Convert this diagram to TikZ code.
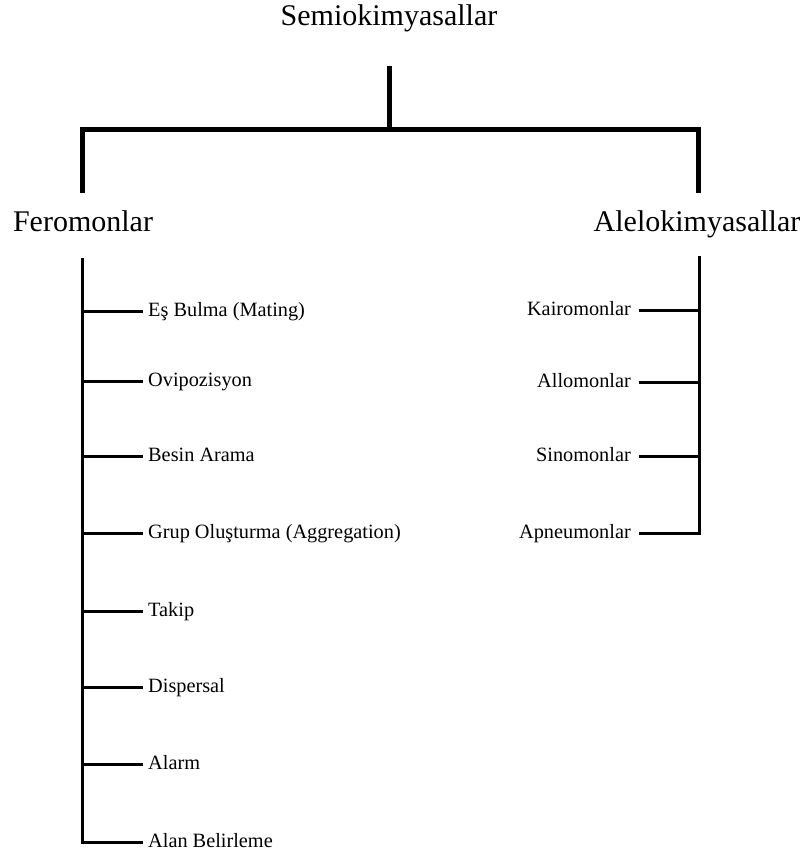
\documentclass[tikz,border=0pt]{standalone}
\usepackage{fontspec}
\setmainfont{Liberation Serif}
\usepackage{tikz}

\tikzset{
  bigtext/.style={font=\fontsize{30}{36}\selectfont, inner sep=0pt, anchor=base},
  leaf/.style={font=\fontsize{20.3}{24}\selectfont, text height=14pt, text depth=4pt, inner ysep=0pt},
  thickline/.style={line width=5pt, line join=miter},
  thinline/.style={line width=3pt, line cap=rect},
}

\begin{document}
\begin{tikzpicture}[x=1pt,y=-1pt]
    \useasboundingbox (0,0) rectangle (806,855);

    % Top level
    \node[bigtext] (semio) at (389,25) {Semiokimyasallar};
    \node[bigtext] (fero) at (83,231) {Feromonlar};
    \node[bigtext] (alelo) at (697,231) {Alelokimyasallar};
    \coordinate (semio-b) at (389,66);
    \coordinate (hub) at (389,129);
    \coordinate (fero-t) at (82,193);
    \coordinate (alelo-t) at (698,193);
    \draw[thickline] (semio-b) -- (hub);
    \draw[thickline] (fero-t) |- (hub) -| (alelo-t);

    % Feromonlar branch
    \coordinate (fero-top) at (82,259);
    \coordinate (fero-bot) at (82,842);
    \draw[thinline] (fero-top) -- (fero-bot);
    \foreach \y/\name/\txt in {311/es/{Eş Bulma (Mating)},
                               381/ovi/{Ovipozisyon},
                               456/besin/{Besin Arama},
                               533/grup/{Grup Oluşturma (Aggregation)},
                               611/takip/{Takip},
                               687/disp/{Dispersal},
                               764/alarm/{Alarm},
                               842/alan/{Alan Belirleme}} {
        \coordinate (\name-j) at (82,\y);
        \node[leaf, anchor=west, inner xsep=7pt] (\name) at (141,\y) {\txt};
        \draw[thinline] (\name-j) -- (\name.west);
    }

    % Alelokimyasallar branch
    \coordinate (alelo-top) at (699,257);
    \coordinate (alelo-bot) at (699,533);
    \draw[thinline] (alelo-top) -- (alelo-bot);
    \foreach \y/\name/\txt in {310/kairo/{Kairomonlar},
                               382/allo/{Allomonlar},
                               456/sino/{Sinomonlar},
                               533/apneu/{Apneumonlar}} {
        \coordinate (\name-j) at (699,\y);
        \node[leaf, anchor=east, inner xsep=9pt] (\name) at (640,\y) {\txt};
        \draw[thinline] (\name-j) -- (\name.east);
    }
\end{tikzpicture}
\end{document}
